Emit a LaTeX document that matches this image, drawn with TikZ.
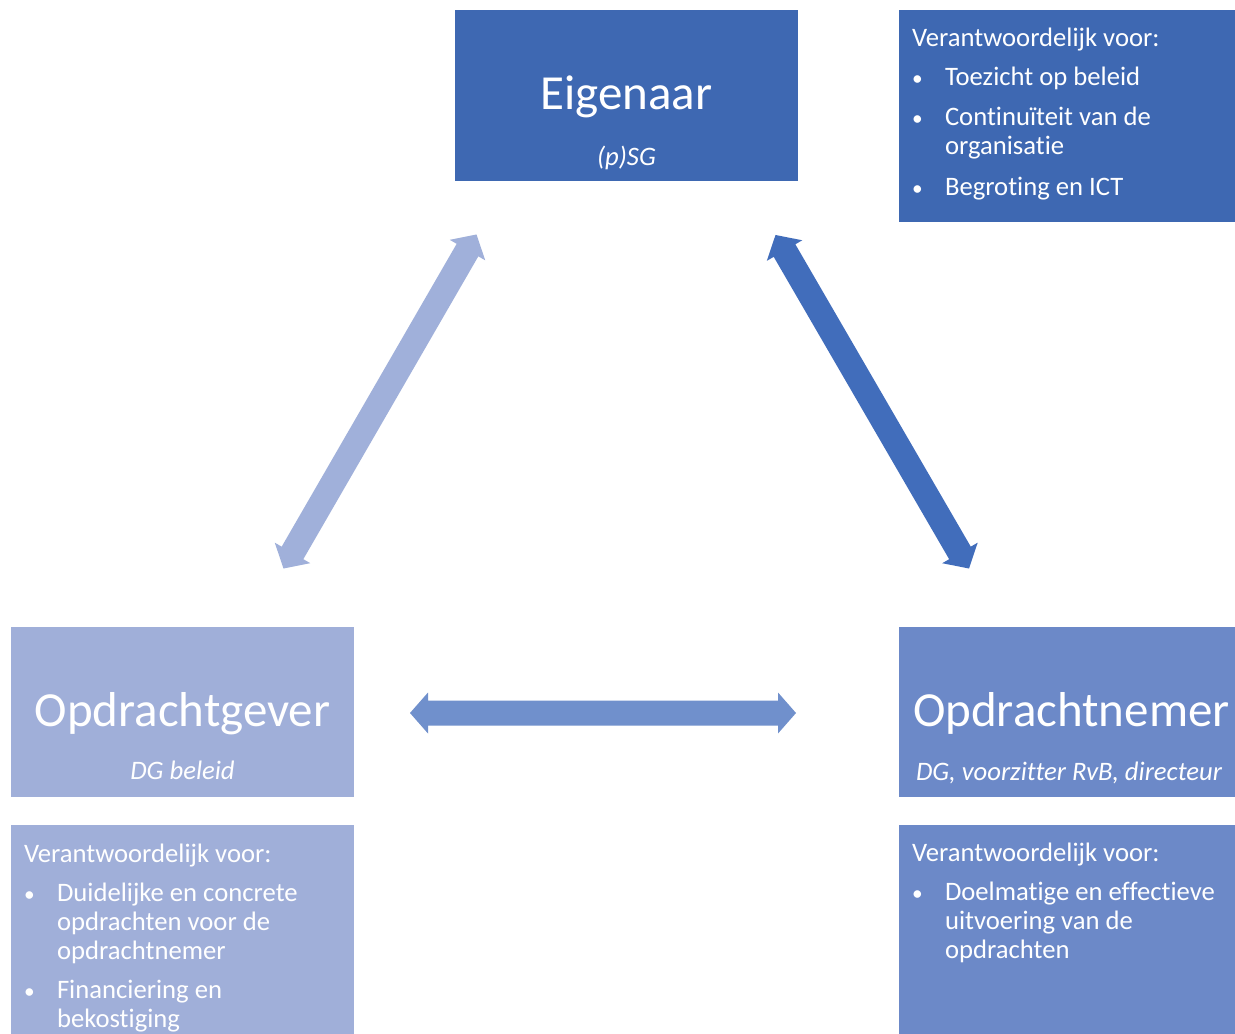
\documentclass[tikz,border=0pt]{standalone}
\usepackage{fontspec}
\setmainfont[Ligatures={NoCommon}]{Carlito}
\usetikzlibrary{calc}
\definecolor{darkblue}{HTML}{3E68B2}
\definecolor{darkarrow}{HTML}{416DBB}
\definecolor{lightblue}{HTML}{A0AFD9}
\definecolor{lightarrow}{HTML}{A0B0DA}
\definecolor{midblue}{HTML}{6C89C8}
\definecolor{midarrow}{HTML}{7090CC}
\newcommand\bigfnt{\fontsize{36.75pt}{44pt}\selectfont}
\newcommand\bodyfnt{\fontsize{20pt}{24pt}\selectfont}
\newcommand\bulfnt{\fontsize{16pt}{19pt}\selectfont}
\newcommand\subfnt{\fontsize{20pt}{23pt}\selectfont\itshape}
% double arrow between two named coordinates
\newcommand\dblarrow[3]{%
  \coordinate (#1h) at ($(#1)!13.5pt!(#2)$);
  \coordinate (#2h) at ($(#2)!13.5pt!(#1)$);
  \fill[#3] (#1) -- ($(#1h)!15.375pt!90:(#2)$) -- ($(#1h)!9.375pt!90:(#2)$)
    -- ($(#2h)!9.375pt!-90:(#1)$) -- ($(#2h)!15.375pt!-90:(#1)$) -- (#2)
    -- ($(#2h)!15.375pt!90:(#1)$) -- ($(#2h)!9.375pt!90:(#1)$)
    -- ($(#1h)!9.375pt!-90:(#2)$) -- ($(#1h)!15.375pt!-90:(#2)$) -- cycle;}
\begin{document}
\begin{tikzpicture}[x=0.75pt,y=-0.75pt,
  box/.style={inner sep=0pt, outer sep=0pt, draw=none},
  txt/.style={inner sep=0pt, outer sep=0pt, text=white},
  bodytxt/.style={txt, font=\bodyfnt, anchor=base west},
  bul/.style={txt, font=\bulfnt, anchor=base},
  titletxt/.style={txt, font=\bigfnt},
  subtxt/.style={txt, font=\subfnt}]
\useasboundingbox[fill=white] (0,0) rectangle (1235,1034);

% boxes
\node[box, fill=darkblue, minimum width=257.25pt, minimum height=128.25pt] (eig) at (626.5,95.5) {};
\node[box, fill=darkblue, minimum width=252pt, minimum height=159pt] (eiginfo) at (1067,116) {};
\node[box, fill=lightblue, minimum width=257.25pt, minimum height=127.5pt] (ogv) at (182.5,712) {};
\node[box, fill=lightblue, minimum width=257.25pt, minimum height=156.75pt] (ogvinfo) at (182.5,929.5) {};
\node[box, fill=midblue, minimum width=252pt, minimum height=127.5pt] (onm) at (1067,712) {};
\node[box, fill=midblue, minimum width=252pt, minimum height=156.75pt] (onminfo) at (1067,929.5) {};

% titles
\node[titletxt, anchor=base] (eigt) at (626.5,110) {Eigenaar};
\node[subtxt, anchor=base] (eigs) at (626.5,165.5) {(p)SG};
\node[titletxt, anchor=base] (ogvt) at (182.5,726.5) {Opdrachtgever};
\node[subtxt, anchor=base] (ogvs) at (182.5,779.5) {DG beleid};
\node[titletxt, anchor=base west] (onmt) at (913,726.5) {Opdrachtnemer};
\node[subtxt, anchor=base west] (onms) at (916,780) {DG, voorzitter RvB, directeur};

% top-right list
\node[bodytxt] (e0) at (912,46.5) {Verantwoordelijk voor:};
\node[bul] (eb1) at (917.5,85.5) {•};
\node[bodytxt] (e1) at (945,85.5) {Toezicht op beleid};
\node[bul] (eb2) at (917.5,125.5) {•};
\node[bodytxt] (e2) at (945,125.5) {Continuïteit van de};
\node[bodytxt] (e3) at (945,155) {organisatie};
\node[bul] (eb3) at (917.5,195.5) {•};
\node[bodytxt] (e4) at (945,195.5) {Begroting en ICT};

% bottom-left list
\node[bodytxt] (g0) at (24,862) {Verantwoordelijk voor:};
\node[bul] (gb1) at (29.5,901) {•};
\node[bodytxt] (g1) at (57,901) {Duidelijke en concrete};
\node[bodytxt] (g2) at (57,930) {opdrachten voor de};
\node[bodytxt] (g3) at (57,959) {opdrachtnemer};
\node[bul] (gb2) at (29.5,998.5) {•};
\node[bodytxt] (g4) at (57,998.5) {Financiering en};
\node[bodytxt] (g5) at (57,1027.5) {bekostiging};

% bottom-right list
\node[bodytxt] (n0) at (912,861.5) {Verantwoordelijk voor:};
\node[bul] (nb1) at (917.5,900) {•};
\node[bodytxt] (n1) at (945,900) {Doelmatige en effectieve};
\node[bodytxt] (n2) at (945,929) {uitvoering van de};
\node[bodytxt] (n3) at (945,958) {opdrachten};

% arrows
\coordinate (la) at (283.5,568.5);
\coordinate (lb) at (476.5,234.5);
\coordinate (ra) at (775.5,235);
\coordinate (rb) at (969,568.5);
\coordinate (ha) at (410,713);
\coordinate (hb) at (796,713);
\dblarrow{la}{lb}{lightarrow}
\dblarrow{ra}{rb}{darkarrow}
\dblarrow{ha}{hb}{midarrow}
\end{tikzpicture}
\end{document}
